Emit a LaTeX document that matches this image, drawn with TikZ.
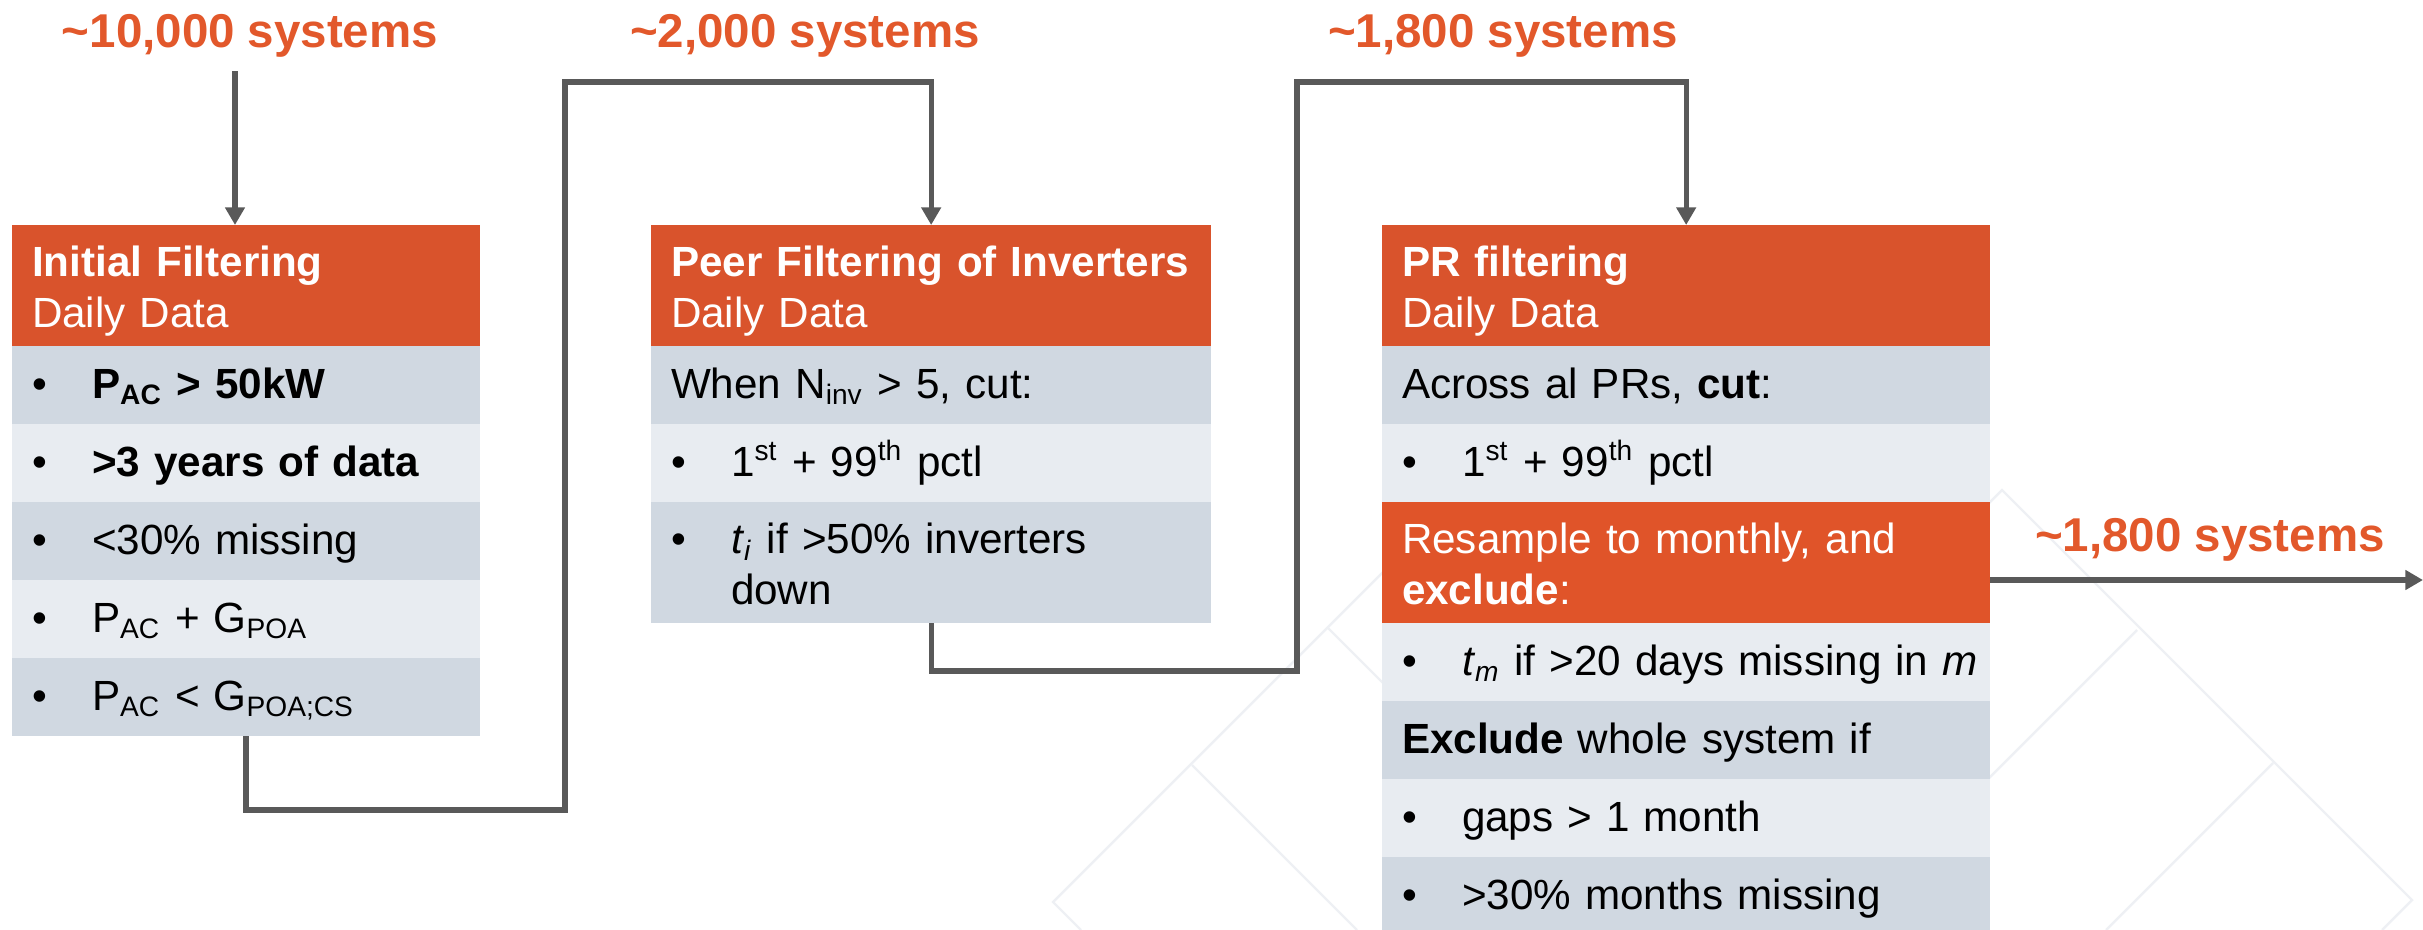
\documentclass[tikz,border=0pt]{standalone}
\usepackage{fontspec}
\setmainfont{Liberation Sans}
\usetikzlibrary{positioning,arrows.meta}
\definecolor{hdrorange}{RGB}{217,83,44}
\definecolor{resorange}{RGB}{224,84,41}
\definecolor{txtorange}{RGB}{226,88,43}
\definecolor{rowdark}{RGB}{208,216,225}
\definecolor{rowlight}{RGB}{232,236,241}
\definecolor{linegray}{RGB}{89,89,89}
\definecolor{wmgray}{RGB}{238,240,244}
\newcommand{\bul}{\makebox[0.6cm][l]{\textbullet}}
\newcommand{\bodyfont}{\fontsize{12pt}{14.4pt}\selectfont}
\tikzset{
  cell/.style={rectangle,inner xsep=0.2cm,inner ysep=0pt,outer sep=0pt,align=left,font=\bodyfont,
    text height=9pt,text depth=1.6pt,minimum height=0.78cm},
  two/.style={text depth=14pt,minimum height=1.21cm},
  head/.style={cell,two,fill=hdrorange,text=white},
  dark/.style={cell,fill=rowdark},
  light/.style={cell,fill=rowlight},
  count/.style={anchor=base,inner sep=0pt,text=txtorange,
    font=\fontsize{13.5pt}{16pt}\selectfont\bfseries},
  flow/.style={draw=linegray,line width=1.5pt,->},
  wm/.style={draw=wmgray,line width=0.7pt}
}
\begin{document}
\begin{tikzpicture}[x=0.01cm,y=-0.01cm,>={Triangle[width=5.4pt,length=5pt]}]
  \useasboundingbox (0,0) rectangle (2423,930);
  % background pattern
  \draw[wm] (1465,490) -- (1053,902) -- (1081,930);
  \draw[wm] (1328,628) -- (1400,700);
  \draw[wm] (1192,765) -- (1357,930);
  \draw[wm] (1960,532) -- (2002,490) -- (2412,900) -- (2382,930);
  \draw[wm] (2137,630) -- (1970,797);
  \draw[wm] (2273,763) -- (2106,930);

  \begin{scope}[every node/.style={text width=4.28cm}]
    \node[head,anchor=north west] (f1h) at (12,225) {\textbf{Initial Filtering}\\Daily Data};
    \node[dark,below=0pt of f1h] (f1a) {\bul\textbf{P\textsubscript{AC} > 50kW}};
    \node[light,below=0pt of f1a] (f1b) {\bul\textbf{>3 years of data}};
    \node[dark,below=0pt of f1b] (f1c) {\bul<30\% missing};
    \node[light,below=0pt of f1c] (f1d) {\bul P\textsubscript{AC} + G\textsubscript{POA}};
    \node[dark,below=0pt of f1d] (f1e) {\bul P\textsubscript{AC} < G\textsubscript{POA;CS}};
  \end{scope}

  \begin{scope}[every node/.style={text width=5.2cm}]
    \node[head,anchor=north west] (f2h) at (651,225) {\textbf{Peer Filtering of Inverters}\\Daily Data};
    \node[dark,below=0pt of f2h] (f2a) {When N\textsubscript{inv} > 5, cut:};
    \node[light,below=0pt of f2a] (f2b) {\bul1\textsuperscript{st} + 99\textsuperscript{th} pctl};
    \node[dark,two,below=0pt of f2b] (f2c) {\bul\textit{t}\textsubscript{\textit{i}} if >50\% inverters\\\hspace*{0.6cm}down};
  \end{scope}

  \begin{scope}[every node/.style={text width=5.68cm}]
    \node[head,anchor=north west] (f3h) at (1382,225) {\textbf{PR filtering}\\Daily Data};
    \node[dark,below=0pt of f3h] (f3a) {Across al PRs, \textbf{cut}:};
    \node[light,below=0pt of f3a] (f3b) {\bul1\textsuperscript{st} + 99\textsuperscript{th} pctl};
    \node[head,fill=resorange,below=0pt of f3b] (f3c) {Resample to monthly, and\\\textbf{exclude}:};
    \node[light,below=0pt of f3c] (f3d) {\mbox{\bul\textit{t}\textsubscript{\textit{m}} if >20 days missing in \textit{m}}};
    \node[dark,below=0pt of f3d] (f3e) {\textbf{Exclude} whole system if};
    \node[light,below=0pt of f3e] (f3f) {\bul gaps > 1 month};
    \node[dark,below=0pt of f3f] (f3g) {\bul>30\% months missing};
  \end{scope}

  \node[count] (n1) at (250,47) {\textasciitilde10,000 systems};
  \node[count] (n2) at (805,47) {\textasciitilde2,000 systems};
  \node[count] (n3) at (1503,47) {\textasciitilde1,800 systems};
  \node[count] (n4) at (2210,551) {\textasciitilde1,800 systems};

  \coordinate (in1) at (235,71);
  \coordinate (c1a) at (565,810);
  \coordinate (c1b) at (565,82);
  \coordinate (c2a) at (1297,671);
  \coordinate (c2b) at (1297,82);
  \coordinate (out) at (2423,580);
  \draw[flow] (in1) -- (in1 |- f1h.north);
  \draw[flow] (f1e.south) |- (c1a) -- (c1b) -| (f2h.north);
  \draw[flow] (f2c.south) |- (c2a) -- (c2b) -| (f3h.north);
  \draw[flow] (out -| f3c.east) -- (out);
\end{tikzpicture}
\end{document}
